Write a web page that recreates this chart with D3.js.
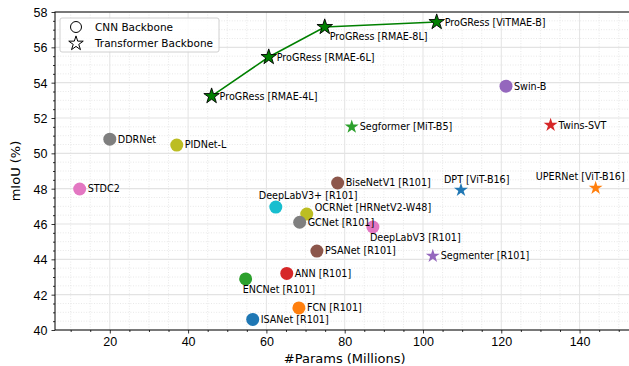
<!DOCTYPE html>
<html>
<head>
<meta charset="utf-8">
<script src="https://cdn.jsdelivr.net/npm/d3@7"></script>
<style>
  body { margin: 0; background: #fff; }
  svg { font-family: "DejaVu Sans", sans-serif; }
</style>
</head>
<body>
<div id="chart"></div>
<script>
// model names, params (M), mIoU (%), backbone kind, colour, label placement
var names = ["ProGRess [RMAE-4L]", "ProGRess [RMAE-6L]", "ProGRess [RMAE-8L]", "ProGRess [ViTMAE-B]",
	"Swin-B", "Twins-SVT", "Segformer [MiT-B5]", "DDRNet", "PIDNet-L", "STDC2",
	"BiseNetV1 [R101]", "DPT [ViT-B16]", "UPERNet [ViT-B16]", "DeepLabV3+ [R101]",
	"OCRNet [HRNetV2-W48]", "GCNet [R101]", "DeepLabV3 [R101]", "PSANet [R101]",
	"Segmenter [R101]", "ANN [R101]", "ENCNet [R101]", "FCN [R101]", "ISANet [R101]"];
var params = [46.0, 60.6, 74.9, 103.5, 121.2, 132.6, 81.8, 20.0, 37.1, 12.3,
	78.2, 109.7, 144.1, 62.4, 70.3, 68.5, 87.2, 72.9, 102.5, 65.2, 54.7, 68.3, 56.5];
var miou = [53.24, 55.45, 57.15, 57.43, 53.8, 51.6, 51.5, 50.8, 50.47, 47.98,
	48.32, 47.92, 48.04, 46.96, 46.56, 46.1, 45.83, 44.47, 44.19, 43.2, 42.89, 41.25, 40.6];
var kind = ["T", "T", "T", "T", "C", "T", "T", "C", "C", "C",
	"C", "T", "T", "C", "C", "C", "C", "C", "T", "C", "C", "C", "C"];
var colors = ["green", "green", "green", "green", "#9467bd", "#d62728", "#2ca02c", "#7f7f7f", "#bcbd22", "#e377c2",
	"#8c564b", "#1f77b4", "#ff7f0e", "#17becf", "#bcbd22", "#7f7f7f", "#e377c2", "#8c564b",
	"#9467bd", "#d62728", "#2ca02c", "#ff7f0e", "#1f77b4"];
var labelPos = ["r", "r", "br", "r", "r", "r", "r", "r", "r", "r",
	"r", "above", "aboveL", "above", "ur", "r", "below", "r", "r", "r", "below", "r", "r"];
var progress = [0, 1, 2, 3];

var xTicks = [20, 40, 60, 80, 100, 120, 140];
var yTicks = [40, 42, 44, 46, 48, 50, 52, 54, 56, 58];

var width = 629, height = 366;
var mLeft = 55, mTop = 12, mBottom = 330, mRight = 634.4;

var svg = d3.select("#chart").append("svg")
	.attr("width", width)
	.attr("height", height);

var x = d3.scaleLinear().domain([6, 154]).range([mLeft, mRight]);
var y = d3.scaleLinear().domain([40, 58]).range([mBottom, mTop]);

var plot = svg.append("g");
svg.append("clipPath").attr("id", "clip")
	.append("rect").attr("x", mLeft).attr("y", mTop).attr("width", mRight - mLeft).attr("height", mBottom - mTop);

// minor grid, dotted
var xMinor = d3.range(10, 155, 5).filter(function(d) { return d % 20 != 0; });
var yMinor = d3.range(40.5, 58, 0.5).filter(function(d) { return d % 2 != 0; });
plot.selectAll(".xminor").data(xMinor).enter().append("line")
	.attr("x1", function(d) { return x(d); }).attr("x2", function(d) { return x(d); })
	.attr("y1", mTop).attr("y2", mBottom)
	.attr("stroke", "#e2e2e2").attr("stroke-width", 0.8).attr("stroke-dasharray", "1,1.6");
plot.selectAll(".yminor").data(yMinor).enter().append("line")
	.attr("x1", mLeft).attr("x2", width)
	.attr("y1", function(d) { return y(d); }).attr("y2", function(d) { return y(d); })
	.attr("stroke", "#e2e2e2").attr("stroke-width", 0.8).attr("stroke-dasharray", "1,1.6");
// major grid
plot.selectAll(".xmajor").data(xTicks).enter().append("line")
	.attr("x1", function(d) { return x(d); }).attr("x2", function(d) { return x(d); })
	.attr("y1", mTop).attr("y2", mBottom)
	.attr("stroke", "#e3e3e3").attr("stroke-width", 1);
plot.selectAll(".ymajor").data(yTicks).enter().append("line")
	.attr("x1", mLeft).attr("x2", width)
	.attr("y1", function(d) { return y(d); }).attr("y2", function(d) { return y(d); })
	.attr("stroke", "#e3e3e3").attr("stroke-width", 1.2);

// axes
var xAxis = d3.axisBottom(x).tickValues(xTicks).tickSize(3.5).tickPadding(4).tickFormat(d3.format("d"));
var yAxis = d3.axisLeft(y).tickValues(yTicks).tickSize(3.5).tickPadding(4).tickFormat(d3.format("d"));
var xMinorAxis = d3.axisBottom(x).tickValues(xMinor).tickSize(2).tickFormat("");
var yMinorAxis = d3.axisLeft(y).tickValues(yMinor).tickSize(2).tickFormat("");

var gx = svg.append("g").attr("transform", "translate(0," + mBottom + ")").call(xAxis);
svg.append("g").attr("transform", "translate(0," + mBottom + ")").call(xMinorAxis);
var gy = svg.append("g").attr("transform", "translate(" + mLeft + ",0)").call(yAxis);
svg.append("g").attr("transform", "translate(" + mLeft + ",0)").call(yMinorAxis);
svg.selectAll(".domain").remove();
svg.selectAll(".tick line").attr("stroke", "#000").attr("stroke-width", 0.8);
gx.selectAll("text").attr("font-size", 12.5).attr("fill", "#000");
gy.selectAll("text").attr("font-size", 12.5).attr("fill", "#000").attr("dy", "0.36em");

// spines
svg.append("rect")
	.attr("x", mLeft).attr("y", mTop)
	.attr("width", mRight - mLeft).attr("height", mBottom - mTop)
	.attr("fill", "none").attr("stroke", "#000").attr("stroke-width", 1);

svg.append("text")
	.attr("x", x(80)).attr("y", 363)
	.attr("text-anchor", "middle").attr("font-size", 13)
	.text("#Params (Millions)");
svg.append("text")
	.attr("transform", "translate(20," + ((mTop + mBottom) / 2) + ") rotate(-90)")
	.attr("text-anchor", "middle").attr("font-size", 13)
	.text("mIoU (%)");

// legend
var leg = svg.append("g");
leg.append("rect").attr("x", 60).attr("y", 18).attr("width", 159).attr("height", 34)
	.attr("rx", 2).attr("fill", "#fff").attr("fill-opacity", 0.8)
	.attr("stroke", "#d0d0d0").attr("stroke-width", 1);
leg.append("circle").attr("cx", 76).attr("cy", 27).attr("r", 5.5)
	.attr("fill", "none").attr("stroke", "#000").attr("stroke-width", 1);
leg.append("path").attr("d", d3.symbol().type(d3.symbolStar).size(65)())
	.attr("transform", "translate(76,43.5)")
	.attr("fill", "none").attr("stroke", "#000").attr("stroke-width", 1);
leg.append("text").attr("x", 95).attr("y", 27).attr("dy", "0.36em").attr("font-size", 10.5).text("CNN Backbone");
leg.append("text").attr("x", 95).attr("y", 43).attr("dy", "0.36em").attr("font-size", 10.5).text("Transformer Backbone");

// progress line
var line = d3.line()
	.x(function(i) { return x(params[i]); })
	.y(function(i) { return y(miou[i]); });
svg.append("path").datum(progress)
	.attr("d", line).attr("fill", "none")
	.attr("stroke", "green").attr("stroke-width", 1.6);

// markers
var idx = d3.range(names.length);
var pts = svg.append("g").attr("clip-path", "url(#clip)");
pts.selectAll(".circ").data(idx.filter(function(i) { return kind[i] == "C"; }))
	.enter().append("circle")
	.attr("cx", function(i) { return x(params[i]); })
	.attr("cy", function(i) { return y(miou[i]); })
	.attr("r", 6.5)
	.attr("fill", function(i) { return colors[i]; });
pts.selectAll(".star").data(idx.filter(function(i) { return kind[i] == "T"; }))
	.enter().append("path")
	.attr("d", function(i) { return d3.symbol().type(d3.symbolStar).size(progress.indexOf(i) >= 0 ? 75 : 60)(); })
	.attr("transform", function(i) { return "translate(" + x(params[i]) + "," + y(miou[i]) + ")"; })
	.attr("fill", function(i) { return colors[i]; })
	.attr("stroke", function(i) { return progress.indexOf(i) >= 0 ? "#000" : "none"; })
	.attr("stroke-width", 0.9);

// labels
svg.selectAll(".lbl").data(idx).enter().append("text")
	.attr("font-size", 9.6)
	.attr("dy", "0.36em")
	.attr("text-anchor", function(i) { return labelPos[i] == "aboveL" ? "end" : "start"; })
	.attr("x", function(i) {
		var p = labelPos[i], px = x(params[i]);
		if (p == "above") return px - 17;
		if (p == "aboveL") return px + 29;
		if (p == "below") return px - 3;
		if (p == "br") return px + 5;
		return px + 8;
	})
	.attr("y", function(i) {
		var p = labelPos[i], py = y(miou[i]);
		if (p == "above" || p == "aboveL") return py - 11;
		if (p == "below") return py + 11;
		if (p == "br") return py + 10;
		if (p == "ur") return py - 7;
		return py;
	})
	.text(function(i) { return names[i]; });
</script>
</body>
</html>
